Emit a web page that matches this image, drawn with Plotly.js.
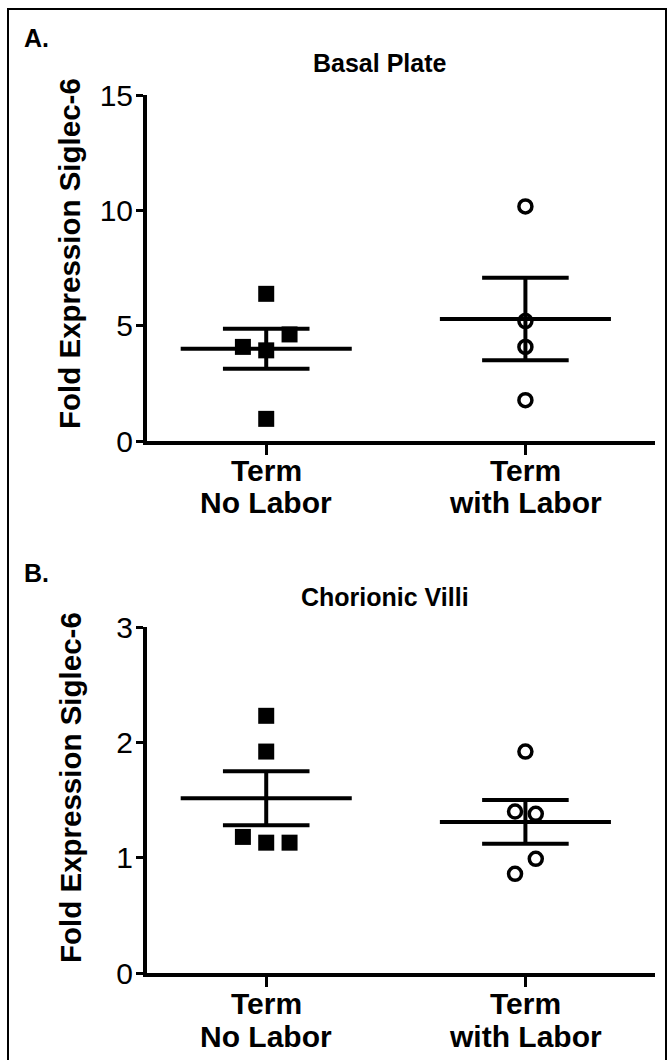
<!DOCTYPE html>
<html><head><meta charset="utf-8">
<script src="https://cdn.plot.ly/plotly-3.0.1.min.js"></script>
<style>html,body{margin:0;padding:0;background:#fff;} #chart{width:669px;height:1060px;}</style>
</head><body><div id="chart"></div>
<script>
// ---- data ----
const categoryLine1 = ["Term", "Term"];
const categoryLine2 = ["No Labor", "with Labor"];
const panelTitles = ["Basal Plate", "Chorionic Villi"];
const panelLabels = ["A.", "B."];
const yTitle = "Fold Expression Siglec-6";

const basalNoLabor = [6.38, 4.62, 4.08, 3.93, 0.96];
const basalWithLabor = [10.17, 5.2, 4.08, 1.77];
const basalMean = [4.0, 5.29];
const basalSem = [0.87, 1.79];
const basalTicks = [0, 5, 10, 15];

const villiNoLabor = [2.23, 1.92, 1.18, 1.13, 1.13];
const villiWithLabor = [1.92, 1.40, 1.38, 0.99, 0.86];
const villiMean = [1.515, 1.31];
const villiSem = [0.235, 0.19];
const villiTicks = [0, 1, 2, 3];

// horizontal scatter offsets (visual placement only)
const basalNoLaborOffset = [0, 0.09, -0.09, 0, 0];
const basalWithLaborOffset = [0, 0, 0, 0];
const villiNoLaborOffset = [0, 0, -0.09, 0, 0.09];
const villiWithLaborOffset = [0, -0.04, 0.04, 0.04, -0.04];

// ---- drawing ----
const FONT = "Liberation Sans, Arial, Helvetica, sans-serif";
const MEAN_HW = 0.33, CAP_HW = 0.167;
const traces = [];

function addGroup(vals, offs, idx, symbol, xa, ya) {
  traces.push({
    x: vals.map((v, i) => idx + offs[i]), y: vals,
    xaxis: xa, yaxis: ya, type: 'scatter', mode: 'markers',
    marker: symbol === 'square'
      ? {symbol: 'square', size: 16, color: '#000'}
      : {symbol: 'circle-open', size: 13, color: '#000', line: {width: 3.5, color: '#000'}},
    showlegend: false, hoverinfo: 'y'
  });
}
function addStats(mean, sem, xa, ya) {
  mean.forEach((m, i) => {
    const s = sem[i];
    const lx = [i - MEAN_HW, i + MEAN_HW, null, i - CAP_HW, i + CAP_HW, null, i - CAP_HW, i + CAP_HW, null, i, i];
    const ly = [m, m, null, m + s, m + s, null, m - s, m - s, null, m - s, m + s];
    traces.push({x: lx, y: ly, xaxis: xa, yaxis: ya, type: 'scatter', mode: 'lines',
      line: {color: '#000', width: 4}, showlegend: false, hoverinfo: 'skip'});
  });
}

addGroup(basalNoLabor, basalNoLaborOffset, 0, 'square', 'x', 'y');
addGroup(basalWithLabor, basalWithLaborOffset, 1, 'circle', 'x', 'y');
addStats(basalMean, basalSem, 'x', 'y');
addGroup(villiNoLabor, villiNoLaborOffset, 0, 'square', 'x2', 'y2');
addGroup(villiWithLabor, villiWithLaborOffset, 1, 'circle', 'x2', 'y2');
addStats(villiMean, villiSem, 'x2', 'y2');

const W = 669, H = 1060;
const xDom = [147 / W, 655 / W];
const yDom1 = [(H - 441) / H, (H - 95) / H];
const yDom2 = [(H - 973) / H, (H - 627) / H];

function xAxis(anchor) {
  return {domain: xDom, anchor: anchor, range: [-0.46, 1.5], tickmode: 'array', tickvals: [0, 1],
    showticklabels: false, showline: true, linecolor: '#000', linewidth: 4, ticks: 'outside',
    ticklen: 10, tickwidth: 3, tickcolor: '#000', showgrid: false, zeroline: false, fixedrange: true};
}
function yAxis(anchor, dom, rng, tv) {
  return {domain: dom, anchor: anchor, range: rng, tickmode: 'array', tickvals: tv,
    showline: true, linecolor: '#000', linewidth: 4, ticks: 'outside', ticklen: 7, tickwidth: 3,
    tickcolor: '#000', showgrid: false, zeroline: false, ticklabelstandoff: -3,
    tickfont: {family: FONT, size: 30, color: '#000'}, fixedrange: true};
}

const ann = [
  {text: '<b>' + panelLabels[0] + '</b>', x: 22 / W, y: (H - 38) / H, xanchor: 'left', size: 25},
  {text: '<b>' + panelLabels[1] + '</b>', x: 22 / W, y: (H - 573) / H, xanchor: 'left', size: 25},
  {text: '<b>' + panelTitles[0] + '</b>', x: 380 / W, y: (H - 63) / H, size: 25},
  {text: '<b>' + panelTitles[1] + '</b>', x: 385 / W, y: (H - 597) / H, size: 25},
  {text: '<b>' + yTitle + '</b>', x: 70 / W, y: (H - 254) / H, textangle: -90, size: 29.5},
  {text: '<b>' + yTitle + '</b>', x: 70 / W, y: (H - 788) / H, textangle: -90, size: 29.5}
].map(a => ({xref: 'paper', yref: 'paper', showarrow: false, text: a.text, x: a.x, y: a.y,
  xanchor: a.xanchor || 'center', yanchor: 'middle', textangle: a.textangle || 0,
  font: {family: FONT, size: a.size, color: '#000'}}));

// category labels (two lines each, tighter spacing than tick labels allow)
const catRows = [[470, 503], [1003, 1036]];
['x', 'x2'].forEach((xr, p) => {
  categoryLine1.forEach((c, i) => {
    ann.push({xref: xr, yref: 'paper', x: i, y: (H - catRows[p][0]) / H, text: '<b>' + c + '</b>',
      showarrow: false, xanchor: 'center', yanchor: 'middle', font: {family: FONT, size: 30, color: '#000'}});
    ann.push({xref: xr, yref: 'paper', x: i, y: (H - catRows[p][1]) / H, text: '<b>' + categoryLine2[i] + '</b>',
      showarrow: false, xanchor: 'center', yanchor: 'middle', font: {family: FONT, size: 30, color: '#000'}});
  });
});

const layout = {
  width: W, height: H, margin: {l: 0, r: 0, t: 0, b: 0},
  paper_bgcolor: '#fff', plot_bgcolor: 'rgba(0,0,0,0)', showlegend: false,
  xaxis: xAxis('y'), yaxis: yAxis('x', yDom1, [0, 15], basalTicks),
  xaxis2: xAxis('y2'), yaxis2: yAxis('x2', yDom2, [0, 3], villiTicks),
  annotations: ann,
  shapes: [{type: 'rect', xref: 'paper', yref: 'paper', x0: 8 / W, x1: 666 / W, y0: -0.01, y1: (H - 9) / H,
    line: {color: '#000', width: 2}, fillcolor: 'rgba(0,0,0,0)', layer: 'below'}]
};

Plotly.newPlot('chart', traces, layout, {staticPlot: true, displayModeBar: false});
</script></body></html>
